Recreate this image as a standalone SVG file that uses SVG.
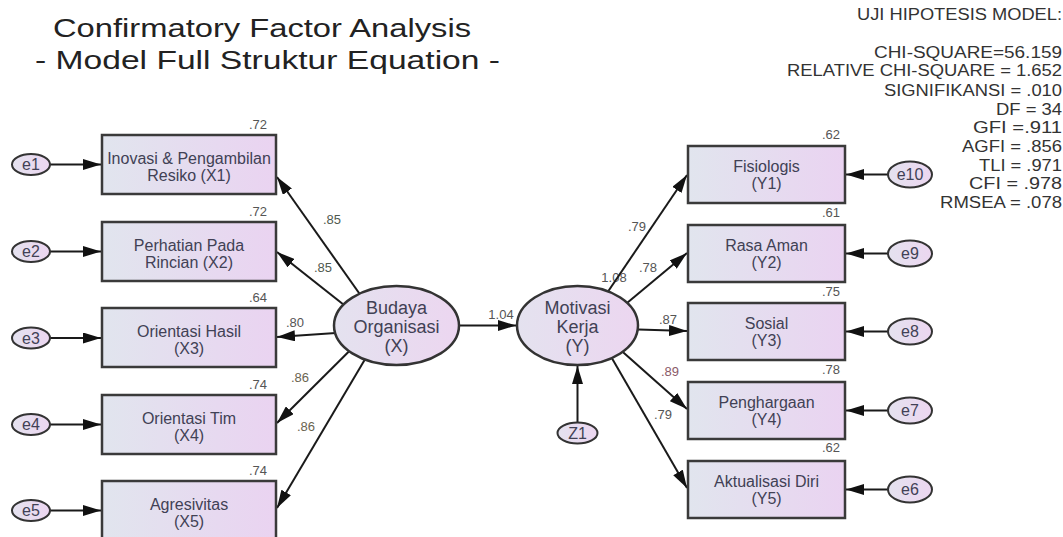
<svg xmlns="http://www.w3.org/2000/svg" width="1063" height="537" viewBox="0 0 1063 537">
<defs>
<linearGradient id="gBox" x1="0" y1="0" x2="1" y2="0">
<stop offset="0" stop-color="#e1e5ee"/>
<stop offset="1" stop-color="#ead3f1"/>
</linearGradient>
<linearGradient id="gEl" x1="0" y1="0" x2="1" y2="0">
<stop offset="0" stop-color="#e4e2ef"/>
<stop offset="1" stop-color="#ecd6f0"/>
</linearGradient>
<marker id="ah" viewBox="0 0 18 11" refX="18" refY="5.5" markerWidth="18" markerHeight="11" markerUnits="userSpaceOnUse" orient="auto">
<path d="M0,0 L18,5.5 L0,11 Z" fill="#111"/>
</marker>
<style>
.box{fill:url(#gBox);stroke:#3a3a3a;stroke-width:2.5}
.el{fill:url(#gEl);stroke:#333;stroke-width:2.5}
.err{fill:url(#gEl);stroke:#333;stroke-width:2}
.t{font-family:"Liberation Sans",Arial,sans-serif;font-size:16px;fill:#414155;text-anchor:middle}
.tl{font-family:"Liberation Sans",Arial,sans-serif;font-size:18px;fill:#414155;text-anchor:middle}
.n{font-family:"Liberation Sans",Arial,sans-serif;font-size:13px;fill:#555;text-anchor:end}
.pl{font-family:"Liberation Sans",Arial,sans-serif;font-size:13px;fill:#555;text-anchor:middle}
.st{font-family:"Liberation Sans",Arial,sans-serif;font-size:16px;fill:#333;text-anchor:end}
.ti{font-family:"Liberation Sans",Arial,sans-serif;font-size:26px;fill:#222}
.c{stroke:#1a1a1a;stroke-width:2;fill:none;marker-end:url(#ah)}
</style>
</defs>
<rect width="1063" height="537" fill="#fff"/>

<g id="title">
<text class="ti" x="53" y="37" textLength="418" lengthAdjust="spacingAndGlyphs">Confirmatory Factor Analysis</text>
<text class="ti" x="35" y="69" textLength="465" lengthAdjust="spacingAndGlyphs">- Model Full Struktur Equation -</text>
</g>

<g id="stats">
<text class="st" x="1062" y="20" font-size="14" textLength="205" lengthAdjust="spacingAndGlyphs">UJI HIPOTESIS MODEL:</text>
<text class="st" x="1062" y="57.5" textLength="188" lengthAdjust="spacingAndGlyphs">CHI-SQUARE=56.159</text>
<text class="st" x="1062" y="75.5" textLength="275" lengthAdjust="spacingAndGlyphs">RELATIVE CHI-SQUARE = 1.652</text>
<text class="st" x="1062" y="95.5" textLength="178" lengthAdjust="spacingAndGlyphs">SIGNIFIKANSI = .010</text>
<text class="st" x="1062" y="114.5" textLength="66" lengthAdjust="spacingAndGlyphs">DF = 34</text>
<text class="st" x="1062" y="132.5" textLength="89" lengthAdjust="spacingAndGlyphs">GFI =.911</text>
<text class="st" x="1062" y="152" textLength="100" lengthAdjust="spacingAndGlyphs">AGFI = .856</text>
<text class="st" x="1062" y="171" textLength="83" lengthAdjust="spacingAndGlyphs">TLI = .971</text>
<text class="st" x="1062" y="188.5" textLength="93" lengthAdjust="spacingAndGlyphs">CFI = .978</text>
<text class="st" x="1062" y="207.5" textLength="122" lengthAdjust="spacingAndGlyphs">RMSEA = .078</text>
</g>

<g id="path-labels">
<text class="pl" x="332" y="224" style="fill:#4f5a4f">.85</text>
<text class="pl" x="323" y="272" style="fill:#4f5a4f">.85</text>
<text class="pl" x="295" y="327">.80</text>
<text class="pl" x="300" y="382" style="fill:#6a6450">.86</text>
<text class="pl" x="306" y="431" style="fill:#6a6450">.86</text>
<text class="pl" x="501" y="319">1.04</text>
<text class="pl" x="637" y="231">.79</text>
<text class="pl" x="614" y="282">1.08</text>
<text class="pl" x="648" y="272">.78</text>
<text class="pl" x="668" y="324">.87</text>
<text class="pl" x="670" y="376" style="fill:#8a5a68">.89</text>
<text class="pl" x="663" y="419">.79</text>
</g>

<g id="connectors">
<line class="c" x1="50" y1="164.5" x2="101" y2="164.5"/>
<line class="c" x1="50" y1="251.5" x2="101" y2="251.5"/>
<line class="c" x1="50" y1="338" x2="101" y2="338"/>
<line class="c" x1="50" y1="424.5" x2="101" y2="424.5"/>
<line class="c" x1="50" y1="510.5" x2="101" y2="510.5"/>
<line class="c" x1="382" y1="325.5" x2="277" y2="177"/>
<line class="c" x1="370" y1="325.5" x2="277" y2="252"/>
<line class="c" x1="380" y1="330" x2="277" y2="337"/>
<line class="c" x1="375" y1="325.5" x2="277" y2="423"/>
<line class="c" x1="385" y1="325.5" x2="277" y2="508"/>
<line class="c" x1="420" y1="325.5" x2="516" y2="325.5"/>
<line class="c" x1="577.5" y1="430" x2="577.5" y2="366"/>
<line class="c" x1="585" y1="325.5" x2="687" y2="175"/>
<line class="c" x1="600" y1="325.5" x2="687" y2="253"/>
<line class="c" x1="590" y1="328" x2="687" y2="331"/>
<line class="c" x1="593" y1="325.5" x2="687" y2="409"/>
<line class="c" x1="593" y1="325.5" x2="687" y2="488"/>
<line class="c" x1="888" y1="174.5" x2="846" y2="174.5"/>
<line class="c" x1="888" y1="253.5" x2="846" y2="253.5"/>
<line class="c" x1="888" y1="331.5" x2="846" y2="331.5"/>
<line class="c" x1="888" y1="410.5" x2="846" y2="410.5"/>
<line class="c" x1="888" y1="489.5" x2="846" y2="489.5"/>
</g>

<g id="X1"><rect class="box" x="102" y="135" width="174" height="59"/><text class="n" x="267" y="129">.72</text><text class="t" x="189" y="163.5">Inovasi &amp; Pengambilan</text><text class="t" x="189" y="180.5">Resiko (X1)</text></g>
<g id="X2"><rect class="box" x="102" y="222" width="174" height="59"/><text class="n" x="267" y="216">.72</text><text class="t" x="189" y="250.5">Perhatian Pada</text><text class="t" x="189" y="267.5">Rincian (X2)</text></g>
<g id="X3"><rect class="box" x="102" y="308" width="174" height="59"/><text class="n" x="267" y="302">.64</text><text class="t" x="189" y="337">Orientasi Hasil</text><text class="t" x="189" y="354">(X3)</text></g>
<g id="X4"><rect class="box" x="102" y="395" width="174" height="59"/><text class="n" x="267" y="389">.74</text><text class="t" x="189" y="423.5">Orientasi Tim</text><text class="t" x="189" y="440.5">(X4)</text></g>
<g id="X5"><rect class="box" x="102" y="481" width="174" height="59"/><text class="n" x="267" y="475">.74</text><text class="t" x="189" y="509.5">Agresivitas</text><text class="t" x="189" y="526.5">(X5)</text></g>

<g id="e1"><ellipse class="err" cx="31" cy="164.5" rx="19" ry="10.5"/><text class="t" x="31" y="170">e1</text></g>
<g id="e2"><ellipse class="err" cx="31" cy="251.5" rx="19" ry="10.5"/><text class="t" x="31" y="257">e2</text></g>
<g id="e3"><ellipse class="err" cx="31" cy="338" rx="19" ry="10.5"/><text class="t" x="31" y="343.5">e3</text></g>
<g id="e4"><ellipse class="err" cx="31" cy="424.5" rx="19" ry="10.5"/><text class="t" x="31" y="430">e4</text></g>
<g id="e5"><ellipse class="err" cx="31" cy="510.5" rx="19" ry="10.5"/><text class="t" x="31" y="516">e5</text></g>

<g id="X"><ellipse class="el" cx="396.5" cy="325.5" rx="62.5" ry="39.5"/><text class="tl" x="396.5" y="314">Budaya</text><text class="tl" x="396.5" y="333">Organisasi</text><text class="tl" x="396.5" y="352">(X)</text></g>
<g id="Y"><ellipse class="el" cx="577.5" cy="325.5" rx="60.5" ry="39.5"/><text class="tl" x="577.5" y="314">Motivasi</text><text class="tl" x="577.5" y="333">Kerja</text><text class="tl" x="577.5" y="352">(Y)</text></g>
<g id="Z1"><ellipse class="err" cx="577.5" cy="433" rx="20" ry="10.5"/><text class="t" x="577.5" y="438.5">Z1</text></g>

<g id="Y1"><rect class="box" x="688" y="146" width="157" height="57"/><text class="n" x="840" y="139">.62</text><text class="t" x="766.5" y="172">Fisiologis</text><text class="t" x="766.5" y="189">(Y1)</text></g>
<g id="Y2"><rect class="box" x="688" y="225" width="157" height="57"/><text class="n" x="840" y="217">.61</text><text class="t" x="766.5" y="251">Rasa Aman</text><text class="t" x="766.5" y="268">(Y2)</text></g>
<g id="Y3"><rect class="box" x="688" y="303" width="157" height="57"/><text class="n" x="840" y="296">.75</text><text class="t" x="766.5" y="329">Sosial</text><text class="t" x="766.5" y="346">(Y3)</text></g>
<g id="Y4"><rect class="box" x="688" y="382" width="157" height="57"/><text class="n" x="840" y="374">.78</text><text class="t" x="766.5" y="408">Penghargaan</text><text class="t" x="766.5" y="425">(Y4)</text></g>
<g id="Y5"><rect class="box" x="688" y="461" width="157" height="57"/><text class="n" x="840" y="452">.62</text><text class="t" x="766.5" y="487">Aktualisasi Diri</text><text class="t" x="766.5" y="504">(Y5)</text></g>

<g id="e10"><ellipse class="err" cx="910" cy="174.5" rx="22" ry="13"/><text class="t" x="910" y="180">e10</text></g>
<g id="e9"><ellipse class="err" cx="910" cy="253.5" rx="22" ry="13"/><text class="t" x="910" y="259">e9</text></g>
<g id="e8"><ellipse class="err" cx="910" cy="331.5" rx="22" ry="13"/><text class="t" x="910" y="337">e8</text></g>
<g id="e7"><ellipse class="err" cx="910" cy="410.5" rx="22" ry="13"/><text class="t" x="910" y="416">e7</text></g>
<g id="e6"><ellipse class="err" cx="910" cy="489.5" rx="22" ry="13"/><text class="t" x="910" y="495">e6</text></g>
</svg>
